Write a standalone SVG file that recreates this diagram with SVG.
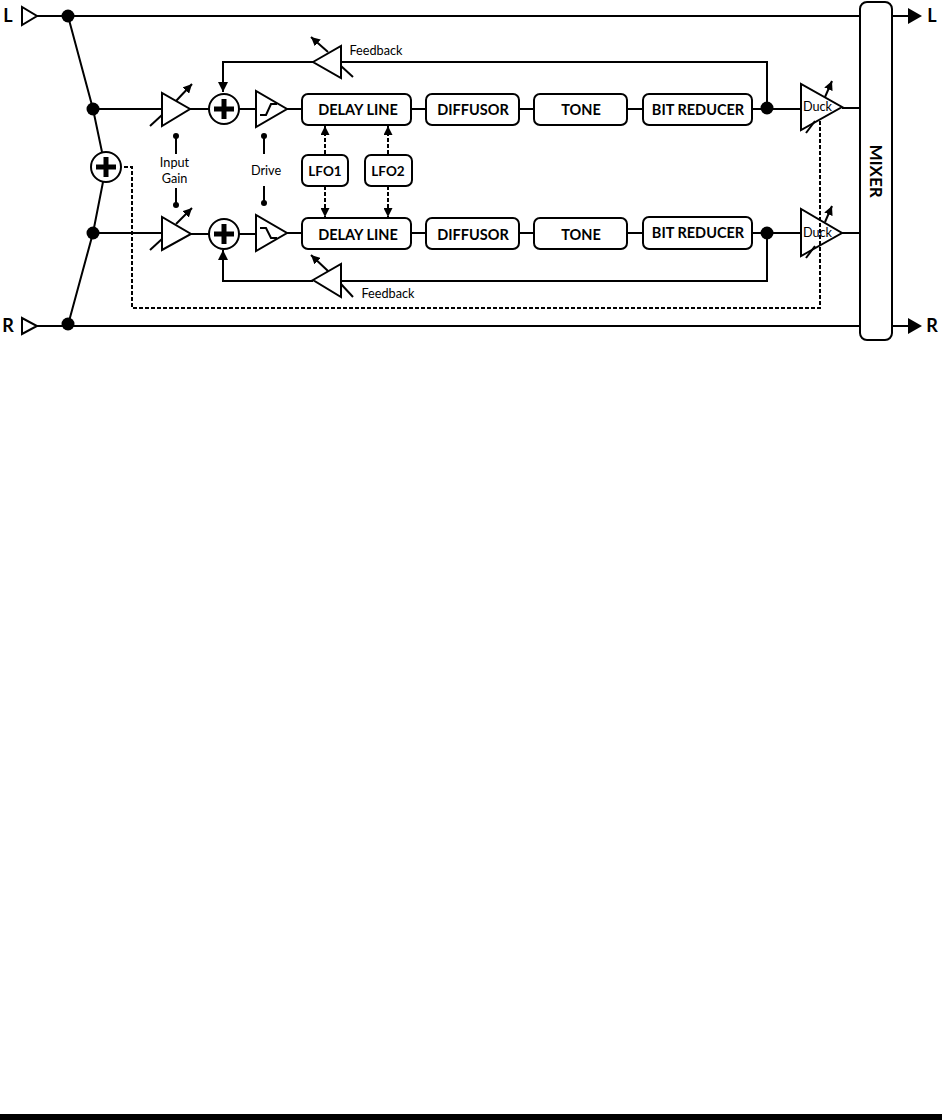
<svg xmlns="http://www.w3.org/2000/svg" width="942" height="1120" viewBox="0 0 942 1120">
<defs>
<marker id="ah" markerUnits="userSpaceOnUse" viewBox="0 0 10 10" refX="10" refY="5" markerWidth="10" markerHeight="10" orient="auto"><path d="M0 0L10 5L0 10Z" fill="#000"/></marker>
<marker id="as" markerUnits="userSpaceOnUse" viewBox="0 0 8 8" refX="8" refY="4" markerWidth="9" markerHeight="9" orient="auto"><path d="M0 0L8 4L0 8Z" fill="#000"/></marker>
</defs>
<style>
.w{fill:none;stroke:#000;stroke-width:2}
.d{fill:none;stroke:#000;stroke-width:2;stroke-dasharray:4 2}
.f{fill:#000;stroke:none}
.t{fill:#fff;stroke:#000;stroke-width:2}
.b{fill:#fff;stroke:#000;stroke-width:2}
.p{fill:none;stroke:#000;stroke-width:5}
text{font-family:"Lato","Open Sans",sans-serif;fill:#000;text-anchor:middle}
.l{font-size:14.5px;font-weight:700}
.s{font-size:12.700px}
.io{font-size:18px;font-weight:700}
</style>
<rect x="0" y="1114" width="942" height="6" fill="#000"/>
<g id="connectors">
<path class="w" d="M37 16H860M37 326H860M68 16L93 109L102 152M103 182L93 233L68 325"/>
<path class="w" d="M93 109H162M190 109H209M239 109H256M287 109H302M93 233H162M191 234H209M239 234H256M287 233H302"/>
<path class="w" d="M411 109H426M519 109H534M627 109H643M752 109H801M842 108H860M411 233H426M519 233H534M627 233H643M752 233H801M842 233H860M892 16H908M892 326H908"/>
<path class="w" d="M767 109V62H341M313 62H223V92" marker-end="url(#ah)"/>
<path class="w" d="M767 233V281H341M313 281H223V250" marker-end="url(#ah)"/>
<path class="d" d="M325 154V126" marker-end="url(#as)"/>
<path class="d" d="M388 154V126" marker-end="url(#as)"/>
<path class="d" d="M325 186V217" marker-end="url(#as)"/>
<path class="d" d="M388 186V217" marker-end="url(#as)"/>
<path class="w" d="M176 154V138M176 188V204M264 154V138M264 186V203"/>
</g>
<g id="dots">
<circle class="f" cx="68" cy="16" r="6.5"/><circle class="f" cx="68" cy="324" r="6.5"/>
<circle class="f" cx="93" cy="109" r="6.5"/><circle class="f" cx="93" cy="233" r="6.5"/>
<circle class="f" cx="767" cy="108" r="6.5"/><circle class="f" cx="767" cy="233" r="6.5"/>
<circle class="f" cx="176" cy="136" r="3"/><circle class="f" cx="176" cy="205" r="3"/>
<circle class="f" cx="264" cy="136" r="3"/><circle class="f" cx="264" cy="203" r="3"/>
</g>
<g id="in-l"><polygon class="t" points="22,7 22,25 37,16"/><text class="io" x="8" y="22">L</text></g>
<g id="in-r"><polygon class="t" points="22,318 22,334 37,326"/><text class="io" x="8" y="332">R</text></g>
<g id="sum-mid"><circle class="b" cx="106" cy="167" r="15"/><path class="p" d="M106 157V177M96 167H116"/></g>
<g id="sum-top"><circle class="b" cx="224" cy="109" r="15"/><path class="p" d="M224 99V119M214 109H234"/></g>
<g id="sum-bot"><circle class="b" cx="224" cy="234" r="15"/><path class="p" d="M224 224V244M214 234H234"/></g>
<g id="gain-top"><polygon class="t" points="162,93 162,126 190,109"/><path class="w" d="M150 126L162 115"/><path class="w" d="M176 101L192 84" marker-end="url(#as)"/></g>
<g id="gain-bot"><polygon class="t" points="162,217 162,250 191,234"/><path class="w" d="M150 250L162 239"/><path class="w" d="M176 224L192 208" marker-end="url(#as)"/></g>
<g id="drive-top"><polygon class="t" points="256,91 256,127 287,109"/><path d="M260 115H266L271 104H277" fill="none" stroke="#000" stroke-width="2"/></g>
<g id="drive-bot"><polygon class="t" points="256,215 256,251 287,233"/><path d="M260 228H266L271 238H277" fill="none" stroke="#000" stroke-width="2"/></g>
<g id="fb-top"><polygon class="t" points="313,62 341,46 341,78"/><path class="w" d="M341 66L353 77"/><path class="w" d="M328 52L311 37" marker-end="url(#as)"/><text class="s" x="376" y="55">Feedback</text></g>
<g id="fb-bot"><polygon class="t" points="313,280 341,264 341,297"/><path class="w" d="M341 284L353 297"/><path class="w" d="M328 271L311 255" marker-end="url(#as)"/><text class="s" x="388" y="298">Feedback</text></g>
<g id="label-input"><text class="s" x="174.500" y="167">Input</text><text class="s" x="174.500" y="183">Gain</text></g>
<g id="label-drive"><text class="s" x="266" y="175">Drive</text></g>
<g id="delay-top"><rect class="b" x="302" y="94" width="109" height="31" rx="6"/><text class="l" x="358" y="115">DELAY LINE</text></g>
<g id="diff-top"><rect class="b" x="426" y="94" width="93" height="31" rx="6"/><text class="l" x="473" y="115">DIFFUSOR</text></g>
<g id="tone-top"><rect class="b" x="534" y="94" width="93" height="31" rx="6"/><text class="l" x="581" y="115">TONE</text></g>
<g id="bit-top"><rect class="b" x="643" y="94" width="109" height="31" rx="6"/><text class="l" x="698" y="115">BIT REDUCER</text></g>
<g id="delay-bot"><rect class="b" x="302" y="218" width="109" height="31" rx="6"/><text class="l" x="358" y="240">DELAY LINE</text></g>
<g id="diff-bot"><rect class="b" x="426" y="218" width="93" height="31" rx="6"/><text class="l" x="473" y="240">DIFFUSOR</text></g>
<g id="tone-bot"><rect class="b" x="534" y="218" width="93" height="31" rx="6"/><text class="l" x="581" y="240">TONE</text></g>
<g id="bit-bot"><rect class="b" x="643" y="217" width="109" height="32" rx="6"/><text class="l" x="698" y="238">BIT REDUCER</text></g>
<g id="lfo1"><rect class="b" x="302" y="155" width="46" height="31" rx="6"/><text class="l" x="325" y="176" style="font-size:13.500px">LFO1</text></g>
<g id="lfo2"><rect class="b" x="365" y="155" width="47" height="31" rx="6"/><text class="l" x="388" y="176" style="font-size:13.500px">LFO2</text></g>
<g id="duck-top"><polygon class="t" points="801,84 801,130 842,107"/><path class="w" d="M806 133L815 121"/><path class="w" d="M825 97L832 81" marker-end="url(#as)"/><text class="s" x="817.500" y="111">Duck</text></g>
<g id="duck-bot"><polygon class="t" points="801,209 801,256 842,233"/><path class="w" d="M806 258L815 246"/><path class="w" d="M825 222L832 206" marker-end="url(#as)"/><text class="s" x="817.500" y="237">Duck</text></g>
<path class="d" d="M124 167H132V308H820V120"/>
<g id="mixer"><rect class="b" x="860" y="2" width="32" height="338" rx="7"/><text class="l" style="font-size:17px" transform="translate(870 171) rotate(90)">MIXER</text></g>
<g id="out-l"><polygon class="f" points="908,8 908,24 922,16"/><text class="io" x="932" y="22">L</text></g>
<g id="out-r"><polygon class="f" points="908,318 908,334 922,326"/><text class="io" x="932" y="332">R</text></g>
</svg>
